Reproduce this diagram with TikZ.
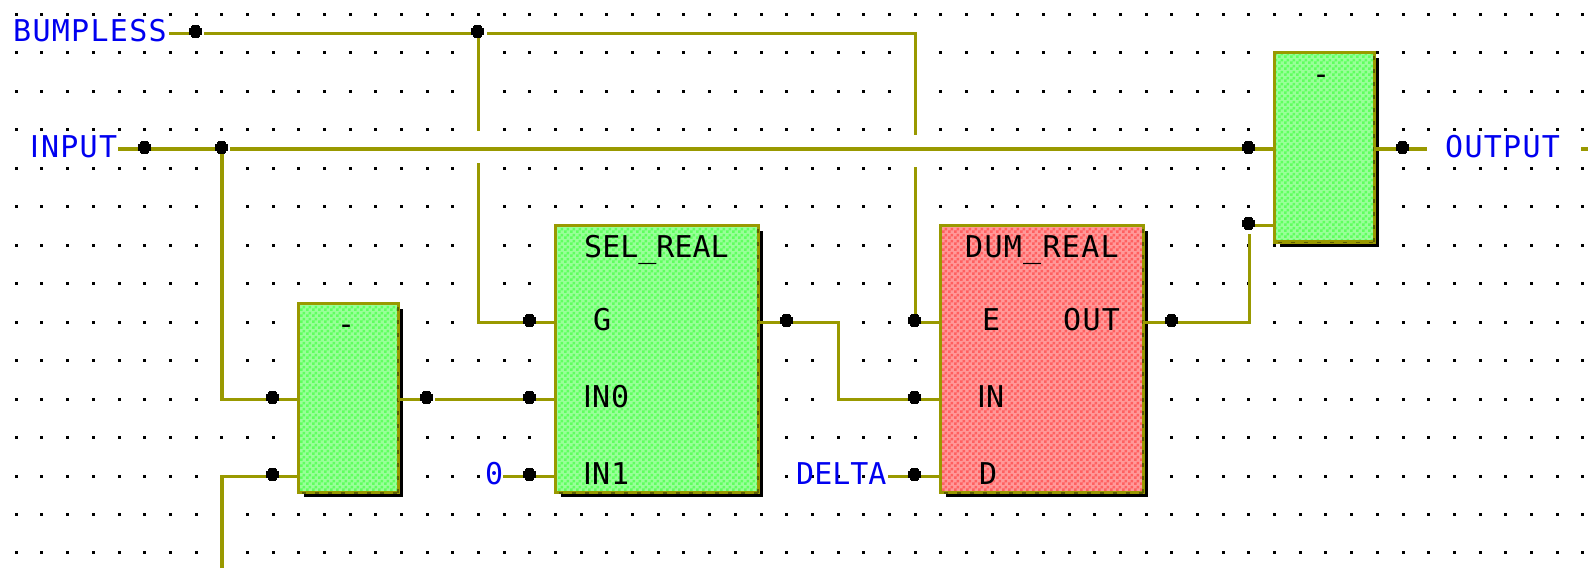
\documentclass[tikz,border=0pt]{standalone}
\usepackage{fontspec}
\usetikzlibrary{patterns,calc}
\newfontfamily\pixfont[LetterSpace=4.3]{DejaVu Sans Mono}
\newfontfamily\pixtight{DejaVu Sans Mono}
\newfontfamily\stemfont{DejaVu Sans}
\definecolor{wirecol}{HTML}{999900}
\definecolor{borderdark}{HTML}{5F5F00}
\definecolor{greenA}{HTML}{99FF99}
\definecolor{greenB}{HTML}{5FFF5F}
\definecolor{redA}{HTML}{FF9999}
\definecolor{redB}{HTML}{FF6060}
\definecolor{varblue}{HTML}{0000F0}
\pgfdeclarepatternformonly{chk}{\pgfqpoint{0pt}{0pt}}{\pgfqpoint{6pt}{6pt}}{\pgfqpoint{6pt}{6pt}}{%
  \pgfpathrectangle{\pgfqpoint{0pt}{0pt}}{\pgfqpoint{3pt}{3pt}}%
  \pgfpathrectangle{\pgfqpoint{3pt}{3pt}}{\pgfqpoint{3pt}{3pt}}%
  \pgfusepath{fill}}
\tikzset{
  wire/.style={draw=wirecol,line width=3.3pt,line cap=butt,line join=miter},
  thickwire/.style={wire,line width=4.2pt},
  blockbox/.style={draw=wirecol,line width=3.4pt,inner sep=0pt,outer sep=0pt,anchor=north west},
  greenbox/.style={blockbox,preaction={fill=greenA},pattern=chk,pattern color=greenB},
  redbox/.style={blockbox,preaction={fill=redA},pattern=chk,pattern color=redB},
  varlabel/.style={font=\pixfont\fontsize{30}{36}\selectfont,text=varblue,anchor=base west,inner sep=0pt},
  pinlabel/.style={font=\pixtight\fontsize{30}{36}\selectfont,text=black,anchor=base west,inner sep=0pt},
  widepin/.style={pinlabel,font=\pixfont\fontsize{30}{36}\selectfont},
  griddot/.style={fill=black},
  mottle/.style={draw=borderdark,line width=1.5pt,dash pattern=on 4pt off 9pt},
}
% block: name, left, top, right, bottom, style
\newcommand{\fbdblock}[6]{%
  \fill[black] (#2+7,#3+7) rectangle (#4+3,#5+3);
  \node[#6,minimum width={#4-#2-3.4pt},minimum height={#5-#3-3.4pt}] (#1) at (#2+1.7,#3+1.7) {};
  \draw[mottle] (#4-2.2,#3+5) -- (#4-2.2,#5-1);
  \draw[mottle] (#2+5,#5-1) -- (#4-1,#5-1);
}
\newcommand{\junc}[1]{%
  \fill[black,shift={(#1)}] (-7.5,-5.5) rectangle (5.5,1.5);
  \fill[black,shift={(#1)}] (-4.5,-8.5) rectangle (2.5,4.5);
  \fill[black,shift={(#1)}] (-5.5,-7.5) rectangle (3.5,3.5);
}
\newcommand{\stemI}{{\stemfont I}}
\begin{document}
\begin{tikzpicture}[x=1pt,y=-1pt]
\useasboundingbox (0,0) rectangle (1588,568);
\fill[white] (0,0) rectangle (1588,568);
% dot grid
\foreach \i in {0,...,61}{
  \foreach \j in {0,...,14}{
    \fill[griddot] ({16.3+25.68*\i-1.5},{14.5+38.46*\j-1.5}) rectangle ++(3,3);
  }
}
% blocks
\fbdblock{lbox}{297}{302}{400}{494}{greenbox}
\fbdblock{rbox}{1273}{51}{1376}{243.7}{greenbox}
\fbdblock{sel}{554}{224}{760}{494}{greenbox}
\fbdblock{dum}{939}{224}{1145}{494}{redbox}
% named wire points
\coordinate (bs) at (169,33.5);
\coordinate (j1) at (196,33.5);
\coordinate (b2) at (204,33.5);
\coordinate (j2) at (478.3,33.5);
\coordinate (b3) at (487,33.5);
\coordinate (c1) at (915.3,33.5);
\coordinate (c2) at (915.3,135);
\coordinate (c3) at (915.3,167);
\coordinate (jE) at (915.3,322.3);
\coordinate (v1) at (478.3,131);
\coordinate (v2) at (478.3,163);
\coordinate (v3) at (478.3,322.3);
\coordinate (jG) at (530,322.3);
\coordinate (is) at (118,149);
\coordinate (j3) at (145,149);
\coordinate (j4) at (222,149);
\coordinate (i2) at (230,149);
\coordinate (j5) at (1249,149);
\coordinate (lc) at (222,399.3);
\coordinate (j6) at (273,399.3);
\coordinate (lc2) at (222,476.3);
\coordinate (lend) at (222,568);
\coordinate (j7) at (273,476.3);
\coordinate (j8) at (427,399.3);
\coordinate (s2) at (435,399.3);
\coordinate (j9) at (530,399.3);
\coordinate (z1) at (503,476.3);
\coordinate (j10) at (530,476.3);
\coordinate (j11) at (787,322.3);
\coordinate (k1) at (838.5,322.3);
\coordinate (k2) at (838.5,399.3);
\coordinate (j12) at (915,399.3);
\coordinate (d1) at (888,476.3);
\coordinate (j13) at (915,476.3);
\coordinate (j14) at (1172,322.3);
\coordinate (o1) at (1249.5,322.3);
\coordinate (o2) at (1249.5,234);
\coordinate (j15) at (1249,225.7);
\coordinate (o3) at (1253,225.7);
\coordinate (j16) at (1403,149);
\coordinate (oe) at (1427,149);
\coordinate (t1) at (1581,149);
\coordinate (t2) at (1588,149);
% wires
\draw[wire] (bs) -- (j1);
\draw[wire] (b2) -- (j2);
\draw[wire] (b3) -- (c1) -- (c2);
\draw[wire] (c3) -- (jE) -- (jE -| dum.west);
\draw[wire] (j2) -- (v1);
\draw[wire] (v2) -- (v3) -- (v3 -| sel.west);
\draw[thickwire] (is) -- (j4);
\draw[thickwire] (i2) -- (i2 -| rbox.west);
\draw[wire] (j4) -- (lc) -- (lc -| lbox.west);
\draw[wire] (lend) -- (lc2) -- (lc2 -| lbox.west);
\draw[wire] (lc -| lbox.east) -- (j8);
\draw[wire] (s2) -- (s2 -| sel.west);
\draw[wire] (z1) -- (z1 -| sel.west);
\draw[wire] (v3 -| sel.east) -- (k1) -- (k2) -- (k2 -| dum.west);
\draw[wire] (d1) -- (d1 -| dum.west);
\draw[wire] (v3 -| dum.east) -- (o1) -- (o2);
\draw[wire] (o3) -- (o3 -| rbox.west);
\draw[wire] (i2 -| rbox.east) -- (oe);
\draw[wire] (t1) -- (t2);
% junctions
\foreach \p in {j1,j2,j3,j4,j5,j6,j7,j8,j9,j10,j11,j12,j13,j14,j15,j16,jE,jG}{\junc{\p}}
% variable labels
\node[varlabel] (tB) at (13,41) {BUMPLESS};
\node[varlabel] (tI) at (30,157) {\stemI\kern2pt NPUT};
\node[varlabel] (tO) at (1445,157) {OUTPUT};
\node[varlabel,font=\pixtight\fontsize{30}{36}\selectfont] (tD) at (796,484) {DELTA};
\node[varlabel] (tZ) at (485,484) {0};
% pin labels
\node[pinlabel] (pS) at (584,257) {SEL\_REAL};
\node[pinlabel] (pG) at (593,330) {G};
\node[pinlabel] (p0) at (583,407) {\stemI N\kern1pt 0};
\node[pinlabel] (p1) at (583,484) {\stemI N\kern1pt 1};
\node[widepin] (pU) at (965,257) {DUM\_REAL};
\node[pinlabel] (pE) at (982,330) {E};
\node[widepin] (pO) at (1063,330) {OUT};
\node[pinlabel] (pI) at (977,407) {\stemI N};
\node[pinlabel] (pD) at (979,484) {D};
\node[pinlabel] (m1) at (1312,84.5) {-};
\node[pinlabel] (m2) at (337,334) {-};
\end{tikzpicture}
\end{document}
